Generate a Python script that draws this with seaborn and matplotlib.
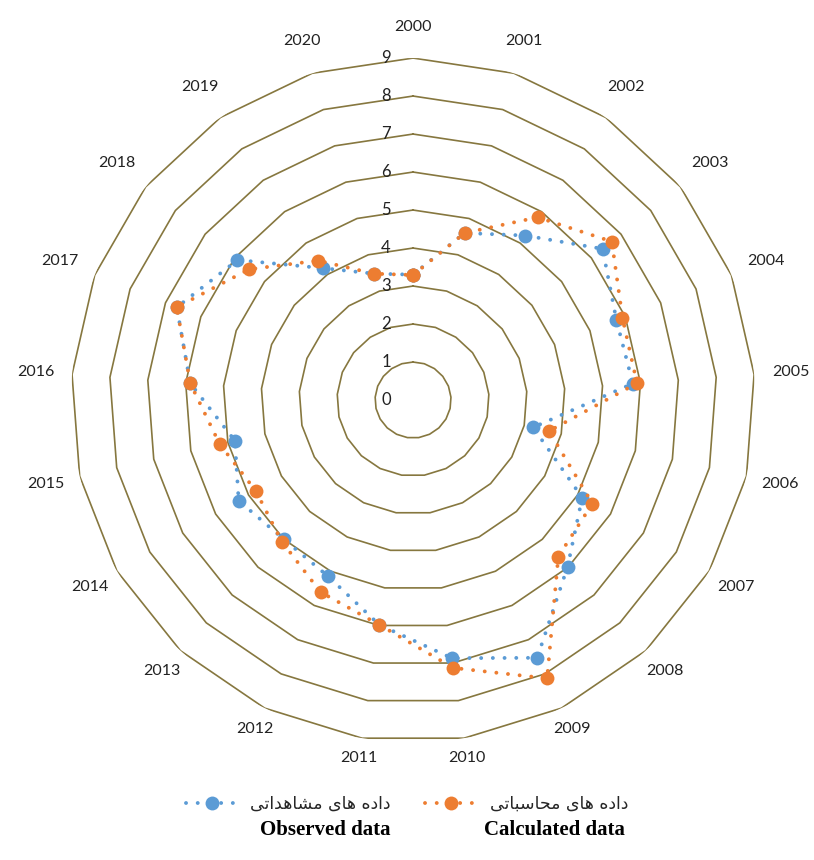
import numpy as np
import seaborn as sns
import matplotlib.pyplot as plt
import matplotlib.transforms as mtransforms

# --- data ---
years = [str(y) for y in range(2000, 2021)]
observed = [3.30, 4.60, 5.24, 6.38, 5.75, 5.80, 3.24, 5.14, 5.98, 7.53, 6.87,
            5.98, 5.15, 5.00, 5.30, 4.81, 5.88, 6.68, 5.91, 4.20, 3.48]
calculated = [3.29, 4.60, 5.82, 6.69, 5.92, 5.91, 3.67, 5.45, 5.62, 8.13, 7.13,
              5.98, 5.61, 5.08, 4.78, 5.22, 5.88, 6.68, 5.52, 4.44, 3.48]
ring_levels = list(range(0, 10))

label_observed = "داده های مشاهداتی"
label_calculated = "داده های محاسباتی"
english_observed = "Observed data"
english_calculated = "Calculated data"

BLUE = "#5B9BD5"
ORANGE = "#ED7D31"
GRID = "#86773F"
TEXT = "#222222"

# matplotlib has no arabic shaping, so pick the joined forms by hand
# (isolated, final, initial, medial); None = letter never joins forward
FORMS = {
    "\u0627": ("\uFE8D", "\uFE8E", None, None),          # alef
    "\u062F": ("\uFEA9", "\uFEAA", None, None),          # dal
    "\u0647": ("\uFEE9", "\uFEEA", "\uFEEB", "\uFEEC"),  # heh
    "\u06CC": ("\uFBFC", "\uFBFD", "\uFBFE", "\uFBFF"),  # farsi yeh
    "\u064A": ("\uFBFC", "\uFBFD", "\uFBFE", "\uFBFF"),
    "\u0645": ("\uFEE1", "\uFEE2", "\uFEE3", "\uFEE4"),  # meem
    "\u0634": ("\uFEB5", "\uFEB6", "\uFEB7", "\uFEB8"),  # sheen
    "\u062A": ("\uFE95", "\uFE96", "\uFE97", "\uFE98"),  # teh
    "\u062D": ("\uFEA1", "\uFEA2", "\uFEA3", "\uFEA4"),  # hah
    "\u0633": ("\uFEB1", "\uFEB2", "\uFEB3", "\uFEB4"),  # seen
    "\u0628": ("\uFE8F", "\uFE90", "\uFE91", "\uFE92"),  # beh
}


def shape_rtl(text):
    out = []
    for i, ch in enumerate(text):
        if ch not in FORMS:
            out.append(ch)
            continue
        prev = text[i - 1] if i > 0 else " "
        nxt = text[i + 1] if i + 1 < len(text) else " "
        iso, fin, ini, med = FORMS[ch]
        joins_prev = prev in FORMS and FORMS[prev][2] is not None
        joins_next = nxt in FORMS and ini is not None
        if joins_prev and joins_next:
            out.append(med)
        elif joins_prev:
            out.append(fin)
        elif joins_next:
            out.append(ini)
        else:
            out.append(iso)
    return "".join(reversed(out))


sns.set_theme(style="white")
plt.rcParams["font.family"] = ["Lato", "DejaVu Sans"]

fig = plt.figure(figsize=(8.14, 8.6), dpi=100)
ax = fig.add_axes([0.0873, 0.1372, 0.8403, 0.7953], projection="polar")
ax.set_theta_zero_location("N")
ax.set_theta_direction(-1)
ax.set_ylim(0, 9)
ax.grid(False)
ax.spines["polar"].set_visible(False)
ax.set_xticks([])
ax.set_yticks([])
ax.patch.set_alpha(0)

n = len(years)
theta = np.linspace(0, 2 * np.pi, n, endpoint=False)
theta_closed = np.append(theta, theta[0] + 2 * np.pi)

# polygon gridlines
for lev in ring_levels[1:]:
    ax.plot(theta_closed, [lev] * (n + 1), color=GRID, lw=1.2, zorder=1)

# series
for vals, color, lab in [(observed, BLUE, label_observed),
                         (calculated, ORANGE, label_calculated)]:
    sns.lineplot(x=theta_closed, y=np.append(vals, vals[0]), ax=ax,
                 sort=False, estimator=None, color=color,
                 linestyle=(0, (0.01, 3.0)), linewidth=2.8,
                 dash_capstyle="round", marker="o", markersize=10,
                 markeredgewidth=0, label=shape_rtl(lab), zorder=3)
if ax.get_legend() is not None:
    ax.get_legend().remove()

# category labels around the outside
for t, yr in zip(theta, years):
    d = 366.5 + 6.5 * np.cos(t) + 11.5 * abs(np.sin(t))
    ax.text(t, d / 38.0, yr, ha="center", va="center", fontsize=11.5,
            color=TEXT, clip_on=False)

# ring value labels, stacked left of the vertical axis
off = mtransforms.offset_copy(ax.transData, fig=fig, x=-27, y=0, units="dots")
for lev in ring_levels:
    ax.text(0, lev, str(lev), transform=off, ha="center", va="center",
            fontsize=12, color=TEXT)

handles, labels = ax.get_legend_handles_labels()
leg = fig.legend(handles, labels, loc="center", ncol=2,
                 bbox_to_anchor=(0.5, 1 - 804 / 860), frameon=False,
                 prop={"family": "DejaVu Sans", "size": 12.5},
                 handlelength=3.0, handletextpad=0.7, columnspacing=2.0)

fig.text(325 / 814, 1 - 830 / 860, english_observed, ha="center", va="center",
         fontsize=15, fontweight="bold", family="Liberation Serif", color="black")
fig.text(554 / 814, 1 - 830 / 860, english_calculated, ha="center", va="center",
         fontsize=15, fontweight="bold", family="Liberation Serif", color="black")

fig.savefig("out.png", dpi=100, facecolor="white")
